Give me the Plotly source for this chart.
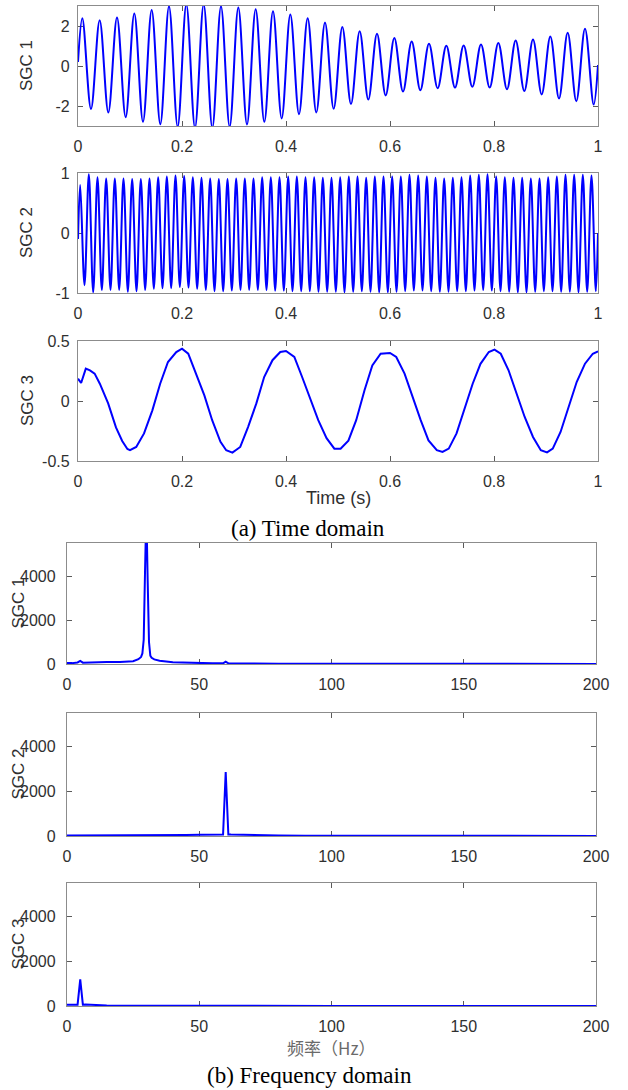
import numpy as np
import plotly.graph_objects as go

W, H = 628, 1090

# ---------------- Time-domain data ----------------
sgc1_cycles = 30
sgc1_start, sgc1_end = 0.2, 0.05
sgc1_peaks = [2.39, 2.29, 2.43, 2.63, 2.80, 2.99, 3.08, 3.08, 2.99, 2.92,
              2.84, 2.74, 2.58, 2.39, 2.17, 1.95, 1.74, 1.61, 1.40, 1.23,
              1.11, 1.01, 1.03, 1.08, 1.15, 1.28, 1.32, 1.47, 1.66, 1.86]
sgc1_troughs = [-2.15, -2.32, -2.56, -2.79, -2.91, -3.04, -3.09, -3.09, -3.04, -2.92,
                -2.79, -2.62, -2.41, -2.32, -2.14, -1.90, -1.68, -1.47, -1.28, -1.21,
                -1.11, -1.08, -1.04, -1.08, -1.16, -1.25, -1.42, -1.62, -1.76, -1.93]

sgc2_cycles = 60
sgc2_start, sgc2_end = -0.1, 0.0
sgc2_peaks = [0.80, 0.98, 0.93, 0.91, 0.91, 0.91, 0.90, 0.90, 0.91, 0.93,
              0.94, 0.96, 0.95, 0.93, 0.92, 0.91, 0.90, 0.90, 0.91, 0.91,
              0.91, 0.93, 0.93, 0.93, 0.94, 0.94, 0.93, 0.93, 0.92, 0.92,
              0.93, 0.94, 0.94, 0.92, 0.94, 0.94, 0.94, 0.94, 0.97, 0.96,
              0.94, 0.92, 0.91, 0.92, 0.93, 0.96, 0.97, 0.98, 0.94, 0.93,
              0.92, 0.92, 0.91, 0.91, 0.93, 0.94, 0.97, 0.97, 0.97, 0.96]
sgc2_troughs = [-0.87, -0.99, -0.95, -0.95, -0.95, -0.98, -0.97, -0.95, -0.93, -0.92,
                -0.92, -0.90, -0.91, -0.93, -0.95, -0.97, -0.97, -0.96, -0.95, -0.95,
                -0.95, -0.95, -0.96, -0.96, -0.97, -0.97, -0.97, -0.98, -0.98, -0.98,
                -0.99, -0.98, -0.97, -0.98, -0.99, -0.99, -0.98, -0.97, -0.96, -0.96,
                -0.97, -0.98, -0.98, -0.97, -0.97, -0.96, -0.95, -0.96, -0.97, -0.98,
                -0.99, -0.99, -0.98, -0.97, -0.97, -0.98, -0.98, -0.99, -0.98, -0.97]

sgc3_t = [0, 0.006, 0.015, 0.023, 0.032, 0.042, 0.058, 0.073, 0.085, 0.095, 0.1, 0.112,
          0.127, 0.143, 0.158, 0.173, 0.189, 0.2, 0.212, 0.227, 0.243, 0.258, 0.274,
          0.285, 0.297, 0.312, 0.327, 0.343, 0.358, 0.374, 0.389, 0.4, 0.416, 0.431,
          0.447, 0.462, 0.478, 0.493, 0.505, 0.52, 0.535, 0.551, 0.566, 0.582, 0.6,
          0.612, 0.628, 0.643, 0.659, 0.674, 0.69, 0.701, 0.713, 0.728, 0.743, 0.759,
          0.774, 0.79, 0.801, 0.813, 0.828, 0.844, 0.859, 0.875, 0.89, 0.902, 0.913,
          0.928, 0.944, 0.959, 0.975, 0.99, 1.0]
sgc3_v = [0.186, 0.15, 0.27, 0.255, 0.228, 0.144, -0.02, -0.22, -0.333, -0.40, -0.41, -0.383,
          -0.27, -0.078, 0.144, 0.325, 0.408, 0.436, 0.394, 0.228, 0.047, -0.16, -0.34,
          -0.41, -0.43, -0.383, -0.217, -0.02, 0.2, 0.34, 0.408, 0.417, 0.367, 0.2,
          0.006, -0.16, -0.31, -0.397, -0.397, -0.33, -0.16, 0.089, 0.297, 0.394, 0.4,
          0.367, 0.228, 0.033, -0.16, -0.328, -0.41, -0.425, -0.397, -0.27, -0.078, 0.144,
          0.31, 0.408, 0.428, 0.394, 0.256, 0.061, -0.133, -0.3, -0.41, -0.428, -0.397,
          -0.258, -0.05, 0.158, 0.311, 0.394, 0.414]

# ---------------- Frequency-domain data ----------------
sgc1_f = [0, 2, 4, 5, 6, 8, 10, 15, 20, 25, 27, 28, 28.5, 29, 29.5, 30, 30.5, 31,
          31.5, 32, 33, 35, 40, 45, 50, 55, 59, 60, 61, 65, 70, 80, 100, 150, 200]
sgc1_a = [50, 40, 70, 140, 60, 60, 80, 90, 95, 130, 220, 320, 480, 1100, 4200, 7000,
          3800, 1000, 380, 280, 210, 150, 80, 55, 40, 30, 30, 110, 30, 20, 15, 10, 8, 5, 5]

sgc2_f = [0, 3, 5, 7, 10, 20, 30, 40, 45, 50, 55, 58, 59, 60, 61, 62, 65, 70, 80, 90,
          100, 150, 200]
sgc2_a = [20, 20, 45, 20, 15, 15, 20, 30, 45, 55, 60, 65, 70, 2860, 70, 65, 55, 45,
          25, 10, 8, 5, 5]

sgc3_f = [0, 2, 3, 4, 5, 6, 7, 8, 10, 12, 15, 20, 30, 50, 59, 60, 61, 100, 150, 200]
sgc3_a = [60, 60, 60, 60, 1190, 60, 70, 60, 45, 35, 20, 15, 10, 8, 8, 15, 8, 5, 5, 5]

time_ticks = [0, 0.2, 0.4, 0.6, 0.8, 1]
time_ticktext = ["0", "0.2", "0.4", "0.6", "0.8", "1"]
freq_ticks = [0, 50, 100, 150, 200]
freq_ticktext = ["0", "50", "100", "150", "200"]
amp_ticks = [0, 2000, 4000]
amp_ticktext = ["0", "2000", "4000"]
y_ticks = [[-2, 0, 2], [-1, 0, 1], [-0.5, 0, 0.5]]
y_ticktext = [["-2", "0", "2"], ["-1", "0", "1"], ["-0.5", "0", "0.5"]]
y_ranges = [[-3, 3], [-1, 1], [-0.5, 0.5]]
labels = ["SGC 1", "SGC 2", "SGC 3"]


def extrema_series(cycles, start, end, peaks, troughs):
    t = [0.0]
    v = [start]
    for k in range(cycles):
        t.append((k + 0.25) / cycles)
        v.append(peaks[k])
        t.append((k + 0.75) / cycles)
        v.append(troughs[k])
    t.append(1.0)
    v.append(end)
    return t, v


t1, v1 = extrema_series(sgc1_cycles, sgc1_start, sgc1_end, sgc1_peaks, sgc1_troughs)
t2, v2 = extrema_series(sgc2_cycles, sgc2_start, sgc2_end, sgc2_peaks, sgc2_troughs)

panels = [
    (78, 598, 6, 126), (78, 598, 173, 293), (78, 598, 341, 461),
    (67, 596, 543, 664), (67, 596, 713, 836), (67, 596, 883, 1006),
]


def px(x):
    return x / W


def py(y):
    return 1 - y / H


BLUE = "#0000ff"
fig = go.Figure()

series = [
    (t1, v1, "spline"), (t2, v2, "spline"), (sgc3_t, sgc3_v, "linear"),
    (sgc1_f, sgc1_a, "linear"), (sgc2_f, sgc2_a, "linear"), (sgc3_f, sgc3_a, "linear"),
]
for i, (x, y, shape) in enumerate(series):
    sfx = "" if i == 0 else str(i + 1)
    fig.add_trace(go.Scatter(
        x=x, y=y, mode="lines",
        line=dict(color=BLUE, width=2, shape=shape, smoothing=1.0 if shape == "spline" else None),
        xaxis="x" + sfx, yaxis="y" + sfx, showlegend=False, hoverinfo="skip"))

tickfont = dict(family="Liberation Sans, Arial, sans-serif", size=16, color="#303030")
axis_common = dict(showline=True, linecolor="#8c8c8c", linewidth=1.3, mirror="ticks",
                   ticks="inside", ticklen=5, tickcolor="#5a5a5a", tickwidth=1,
                   showgrid=False, zeroline=False, tickfont=tickfont,
                   layer="below traces", fixedrange=True, automargin=False)

layout = dict(width=W, height=H, autosize=False, margin=dict(l=0, r=0, t=0, b=0, pad=0),
              paper_bgcolor="white", plot_bgcolor="white", showlegend=False)

for i, (x0, x1, y0, y1) in enumerate(panels):
    sfx = "" if i == 0 else str(i + 1)
    xa = dict(axis_common, domain=[px(x0), px(x1)], anchor="y" + sfx,
              ticklabelstandoff=6)
    ya = dict(axis_common, domain=[py(y1), py(y0)], anchor="x" + sfx,
              ticklabelstandoff=4)
    if i < 3:
        xa.update(range=[0, 1], tickvals=time_ticks, ticktext=time_ticktext)
        ya.update(range=y_ranges[i], tickvals=y_ticks[i], ticktext=y_ticktext[i])
    else:
        xa.update(range=[0, 200], tickvals=freq_ticks, ticktext=freq_ticktext)
        ya.update(range=[0, 5500], tickvals=amp_ticks, ticktext=amp_ticktext,
                  ticklabelstandoff=7)
    layout["xaxis" + sfx] = xa
    layout["yaxis" + sfx] = ya

annotations = []
labfont = dict(family="Liberation Sans, Arial, sans-serif", size=17, color="#303030")
for i, (x0, x1, y0, y1) in enumerate(panels):
    xc = 27 if i < 3 else 18
    annotations.append(dict(text=labels[i % 3], x=px(xc), y=py((y0 + y1) / 2),
                            xref="paper", yref="paper", showarrow=False,
                            textangle=-90, font=labfont,
                            xanchor="center", yanchor="middle"))

annotations.append(dict(text="Time (s)", x=px(338), y=py(498), xref="paper", yref="paper",
                        showarrow=False,
                        font=dict(family="Liberation Sans, Arial, sans-serif", size=18,
                                  color="#303030"),
                        xanchor="center", yanchor="middle"))
annotations.append(dict(text="频率（Hz）", x=px(331), y=py(1047), xref="paper", yref="paper",
                        showarrow=False,
                        font=dict(family="Noto Sans CJK SC", size=17, color="#6a6a6a"),
                        xanchor="center", yanchor="middle"))
capfont = dict(family="Liberation Serif, Times New Roman, serif", size=23, color="#000000")
annotations.append(dict(text="(a) Time domain", x=px(308), y=py(528), xref="paper", yref="paper",
                        showarrow=False, font=capfont, xanchor="center", yanchor="middle"))
annotations.append(dict(text="(b) Frequency domain", x=px(309), y=py(1075), xref="paper",
                        yref="paper", showarrow=False, font=capfont,
                        xanchor="center", yanchor="middle"))
layout["annotations"] = annotations

fig.update_layout(**layout)
fig.write_html("out.html")
